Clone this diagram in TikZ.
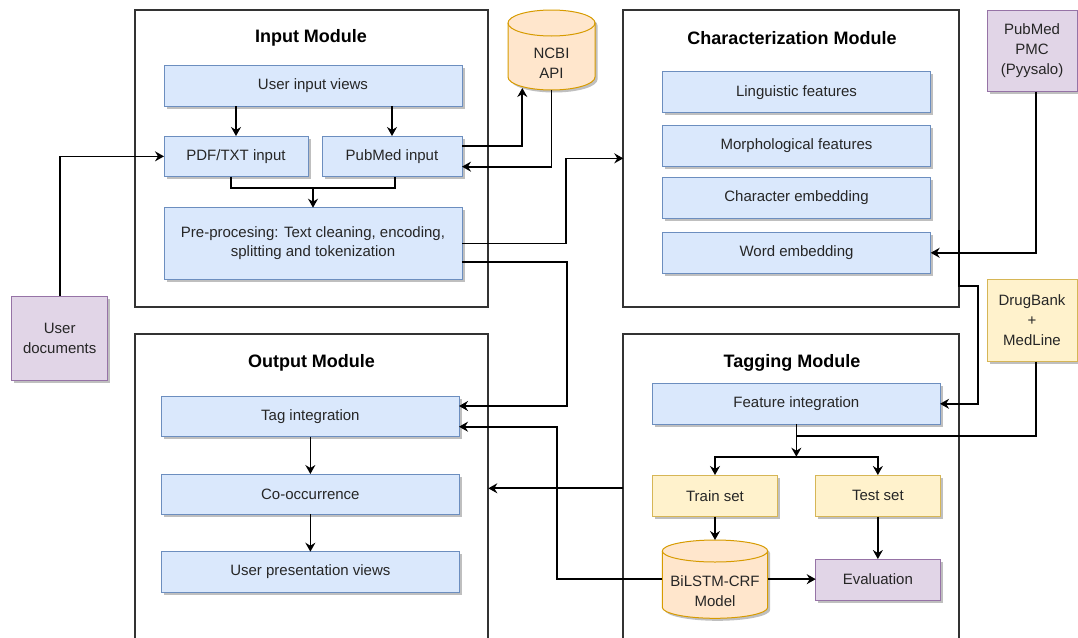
\documentclass[tikz,border=0pt]{standalone}
\usepackage{fontspec}
\setmainfont{Liberation Sans}
\usetikzlibrary{arrows.meta,shadows,calc}
\definecolor{blueF}{HTML}{DAE8FC}
\definecolor{blueD}{HTML}{6C8EBF}
\definecolor{yelF}{HTML}{FFF2CC}
\definecolor{yelD}{HTML}{D6B656}
\definecolor{orF}{HTML}{FFE6CC}
\definecolor{orD}{HTML}{D79B00}
\definecolor{purF}{HTML}{E1D5E7}
\definecolor{purD}{HTML}{9673A6}
\begin{document}
\begin{tikzpicture}[x=1pt,y=-1pt,
  every node/.style={font=\fontsize{15}{20}\selectfont, text=black!85},
  shad/.style={drop shadow={shadow xshift=2.5pt,shadow yshift=-2.5pt,opacity=0.25,fill=black}},
  box/.style={draw, line width=1pt, inner sep=0pt, outer sep=0pt, align=center, shad},
  bluebox/.style={box, fill=blueF, draw=blueD},
  yelbox/.style={box, fill=yelF, draw=yelD},
  purbox/.style={box, fill=purF, draw=purD},
  modbox/.style={draw=black!80, fill=white, line width=2pt, inner sep=0pt, outer sep=0pt},
  title/.style={font=\fontsize{18}{22}\selectfont\bfseries, text=black},
  cylbody/.style={fill=orF, draw=orD, line width=1pt, shad},
  cylline/.style={draw=orD, line width=1pt},
  cylanchor/.style={inner sep=0pt, outer sep=0pt},
  cyltext/.style={inner sep=0pt, outer sep=0pt, align=center},
  conn/.style={line width=1.7pt, draw=black, line join=miter},
  arr/.style={conn, -{Stealth[length=9pt,width=10pt,inset=3pt]}}
]
\path[use as bounding box] (0,0) rectangle (1078,637);
\clip (0,0) rectangle (1078,637);

% modules
\node[modbox, minimum width=352.5pt, minimum height=296.7pt] (inmod) at (311.25,158.35) {};
\node[title] (intitle) at (311,38) {Input Module};
\node[modbox, minimum width=335.7pt, minimum height=296.7pt] (charmod) at (791.15,158.35) {};
\node[title] (chartitle) at (792,38) {Characterization Module};
\node[modbox, minimum width=353.3pt, minimum height=326pt] (outmod) at (311.65,497) {};
\node[title] (outtitle) at (311.5,362.7) {Output Module};
\node[modbox, minimum width=335.7pt, minimum height=326pt] (tagmod) at (791.15,497) {};
\node[title] (tagtitle) at (792,362.7) {Tagging Module};

% input module
\node[bluebox, minimum width=298pt, minimum height=41pt] (uiv) at (313,85.5) {User input views};
\node[bluebox, minimum width=144pt, minimum height=40.7pt] (pdf) at (236,156.35) {PDF/TXT input};
\node[bluebox, minimum width=140pt, minimum height=40.7pt] (pub) at (392,156.35) {PubMed input};
\node[bluebox, minimum width=298pt, minimum height=71.6pt, font=\fontsize{15}{19}\selectfont] (pre) at (313,243.5) {Pre-procesing: Text cleaning, encoding,\\splitting and tokenization};

% NCBI cylinder
\path[cylbody] (508,23) -- (508,77) arc[start angle=180,end angle=360,x radius=43.5pt,y radius=13pt] -- (595,23) arc[start angle=0,end angle=180,x radius=43.5pt,y radius=13pt] -- cycle;
\draw[cylline] (508,23) arc[start angle=180,end angle=360,x radius=43.5pt,y radius=13pt];
\node[cylanchor, minimum width=87pt, minimum height=80pt] (ncbi) at (551.5,50) {};
\node[cyltext] (ncbilbl) at (551.5,63.7) {NCBI\\API};

% characterization module
\node[bluebox, minimum width=268.4pt, minimum height=41pt] (ling) at (796.5,92.2) {Linguistic features};
\node[bluebox, minimum width=268.4pt, minimum height=41pt] (morph) at (796.5,145.5) {Morphological features};
\node[bluebox, minimum width=268.4pt, minimum height=41pt] (charemb) at (796.5,197.8) {Character embedding};
\node[bluebox, minimum width=268.4pt, minimum height=41pt] (word) at (796.5,252.8) {Word embedding};

% external sources
\node[purbox, minimum width=90pt, minimum height=81.7pt] (pmc) at (1032,50.85) {PubMed\\PMC\\(Pyysalo)};
\node[yelbox, minimum width=90pt, minimum height=82.7pt] (drug) at (1032,320.35) {DrugBank\\+\\MedLine};
\node[purbox, minimum width=96pt, minimum height=84pt] (udoc) at (59.7,338) {User\\documents};

% output module
\node[bluebox, minimum width=297.3pt, minimum height=40.7pt] (tag) at (310.35,416.35) {Tag integration};
\node[bluebox, minimum width=297.3pt, minimum height=40.3pt] (cooc) at (310.35,494.15) {Co-occurrence};
\node[bluebox, minimum width=297.3pt, minimum height=40.6pt] (upv) at (310.35,572) {User presentation views};

% tagging module
\node[bluebox, minimum width=287.3pt, minimum height=41pt] (feat) at (796.35,403.8) {Feature integration};
\node[yelbox, minimum width=124.6pt, minimum height=41.7pt] (train) at (715,495.85) {Train set};
\node[yelbox, minimum width=124.3pt, minimum height=41.7pt] (test) at (877.85,495.85) {Test set};
\node[purbox, minimum width=124.3pt, minimum height=41pt] (eval) at (877.85,579.5) {Evaluation};

% BiLSTM cylinder
\path[cylbody] (662.3,551) -- (662.3,607.3) arc[start angle=180,end angle=360,x radius=52.7pt,y radius=11pt] -- (767.7,551) arc[start angle=0,end angle=180,x radius=52.7pt,y radius=11pt] -- cycle;
\draw[cylline] (662.3,551) arc[start angle=180,end angle=360,x radius=52.7pt,y radius=11pt];
\node[cylanchor, minimum width=105.4pt, minimum height=78.3pt] (bil) at (715,579.15) {};
\node[cyltext] (billbl) at (715,591.2) {BiLSTM-CRF\\Model};

% connectors: input module
\draw[arr] (uiv.south -| pdf.north) -- (pdf.north);
\draw[arr] (uiv.south -| pub.north) -- (pub.north);
\coordinate (prejoin) at (313,187.7);
\draw[conn] ([xshift=-5pt]pdf.south) -- ++(0,11) -| ([xshift=3pt]pub.south);
\draw[arr] (prejoin) -- (pre.north);
\draw[arr] ([yshift=10.35pt]pub.east) -| ([xshift=-29.2pt,yshift=2pt]ncbi.south);
\draw[arr] (ncbi.south) |- ([yshift=-10.3pt]pub.east);
\draw[arr] (udoc.north) |- (pdf.west);
\draw[arr] (pre.east) -- ++(104,0) |- (charmod.west);
\draw[arr] ([yshift=-18.2pt]pre.east) -- ++(104.7,0) |- ([yshift=10.35pt]tag.east);

% characterization / external
\draw[arr] ([xshift=4pt]pmc.south) |- (word.east);
\draw[arr] ([yshift=-71.65pt]charmod.east) -- ++(0,56) -- ++(19.3,0) |- (feat.east);
\coordinate (drugjoin) at (796.35,435.7);
\draw[conn] ([xshift=4pt]drug.south) |- (drugjoin);

% tagging module
\coordinate (split) at (796.35,456.7);
\draw[arr] (feat.south) -- (split);
\draw[arr] (split) -| (train.north);
\draw[arr] (split) -| (test.north);
\draw[arr] (train.south) -- (bil.north);
\draw[arr] (test.south) -- (eval.north);
\draw[arr] (bil.east) -- (eval.west |- bil.east);
\draw[arr] (bil.west) -- ++(-105.6,0) |- ([yshift=-10.35pt]tag.east);
\draw[arr] ([yshift=8.7pt]tagmod.west) -- ([yshift=8.7pt]outmod.east);

% output module
\draw[arr] (tag.south) -- (cooc.north);
\draw[arr] (cooc.south) -- (upv.north);
\end{tikzpicture}
\end{document}
